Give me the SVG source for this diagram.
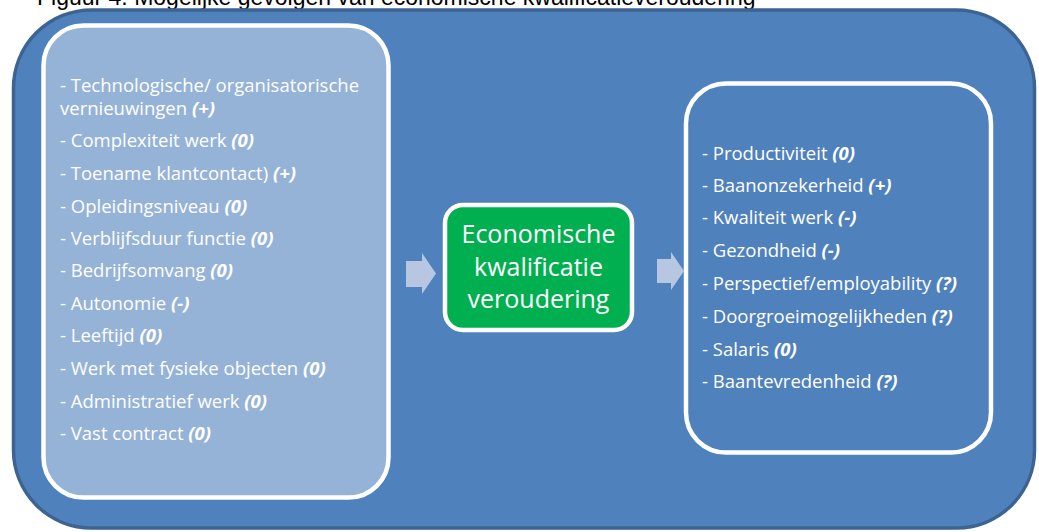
<svg xmlns="http://www.w3.org/2000/svg" width="1039" height="532" viewBox="0 0 1039 532">
<style>
.t{font-family:"Open Sans","Liberation Sans",sans-serif;font-size:18.5px;fill:#ffffff}
.b{font-weight:bold;font-style:italic}
.c{font-family:"Open Sans","Liberation Sans",sans-serif;font-size:25px;fill:#ffffff;text-anchor:middle}
.arrow{fill:#B7C7E1}
</style>
<rect width="1039" height="532" fill="#ffffff"/>
<text x="37" y="5" font-family="Liberation Sans, Arial, sans-serif" font-size="23" fill="#000000">Figuur 4: Mogelijke gevolgen van economische kwalificatieveroudering</text>
<g id="background">
<rect x="13.5" y="10" width="1021" height="518" rx="78" ry="78" fill="#4F81BD" stroke="#3C6391" stroke-width="3.5"/>
</g>
<g id="oorzaken">
<rect x="43.5" y="25.5" width="345" height="472" rx="40" ry="40" fill="#95B3D7" stroke="#ffffff" stroke-width="4.5"/>
<text class="t" x="60" y="92">- Technologische/ organisatorische<tspan x="60" dy="22.5">vernieuwingen </tspan><tspan class="b">(+)</tspan></text>
<text class="t" x="60" y="147">- Complexiteit werk <tspan class="b">(0)</tspan></text>
<text class="t" x="60" y="180">- Toename klantcontact) <tspan class="b">(+)</tspan></text>
<text class="t" x="60" y="213">- Opleidingsniveau <tspan class="b">(0)</tspan></text>
<text class="t" x="60" y="245">- Verblijfsduur functie <tspan class="b">(0)</tspan></text>
<text class="t" x="60" y="277">- Bedrijfsomvang <tspan class="b">(0)</tspan></text>
<text class="t" x="60" y="310">- Autonomie <tspan class="b">(-)</tspan></text>
<text class="t" x="60" y="342">- Leeftijd <tspan class="b">(0)</tspan></text>
<text class="t" x="60" y="375">- Werk met fysieke objecten <tspan class="b">(0)</tspan></text>
<text class="t" x="60" y="408">- Administratief werk <tspan class="b">(0)</tspan></text>
<text class="t" x="60" y="440">- Vast contract <tspan class="b">(0)</tspan></text>
</g>
<g id="veroudering">
<rect x="445" y="205" width="187" height="125" rx="18" ry="18" fill="#00B050" stroke="#ffffff" stroke-width="4.5"/>
<text class="c" x="538.5" y="243">Economische</text>
<text class="c" x="538.5" y="275.5">kwalificatie</text>
<text class="c" x="538.5" y="308">veroudering</text>
</g>
<g id="gevolgen">
<rect x="686" y="83.5" width="305" height="369" rx="40" ry="40" fill="#4F81BD" stroke="#ffffff" stroke-width="4.5"/>
<text class="t" x="702" y="160">- Productiviteit <tspan class="b">(0)</tspan></text>
<text class="t" x="702" y="192">- Baanonzekerheid <tspan class="b">(+)</tspan></text>
<text class="t" x="702" y="224">- Kwaliteit werk <tspan class="b">(-)</tspan></text>
<text class="t" x="702" y="257">- Gezondheid <tspan class="b">(-)</tspan></text>
<text class="t" x="702" y="290">- Perspectief/employability <tspan class="b">(?)</tspan></text>
<text class="t" x="702" y="323">- Doorgroeimogelijkheden <tspan class="b">(?)</tspan></text>
<text class="t" x="702" y="356">- Salaris <tspan class="b">(0)</tspan></text>
<text class="t" x="702" y="388">- Baantevredenheid <tspan class="b">(?)</tspan></text>
</g>
<g id="connectors">
<polygon class="arrow" points="406,261 422,261 422,253 436,273.5 422,294 422,287 406,287"/>
<polygon class="arrow" points="657,259 671,259 671,252 684,271 671,290 671,283 657,283"/>
</g>
</svg>
